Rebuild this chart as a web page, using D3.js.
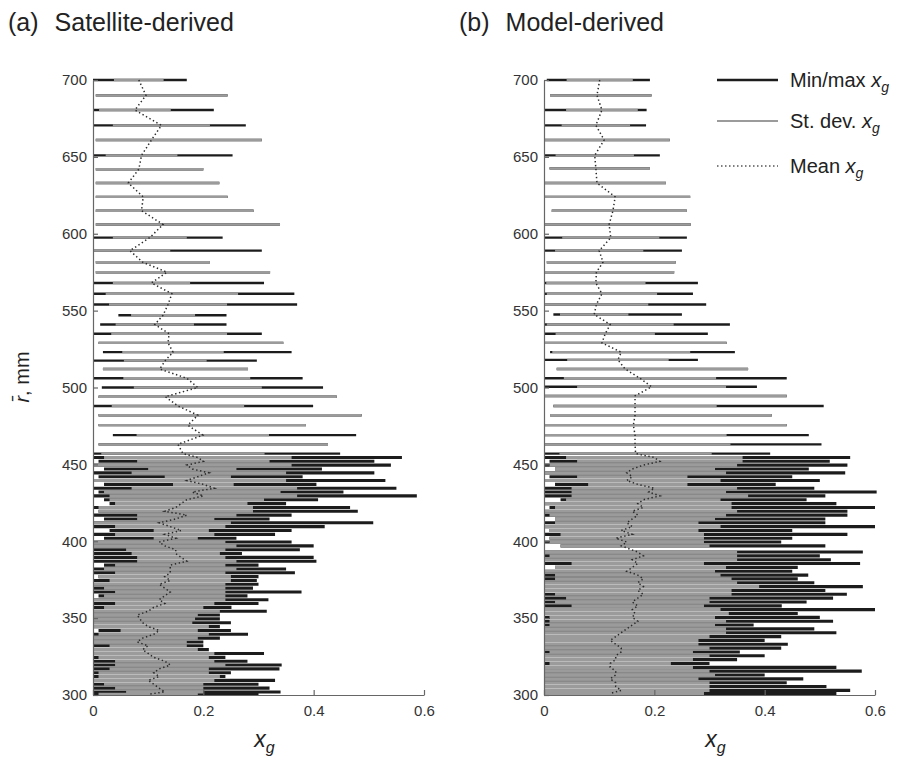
<!DOCTYPE html>
<html>
<head>
<meta charset="utf-8">
<script src="https://cdn.jsdelivr.net/npm/d3@7"></script>
<style>
  body { margin: 0; background: #fff; }
  svg { display: block; font-family: "Liberation Sans", Arial, sans-serif; }
</style>
</head>
<body>
<div id="chart"></div>
<script>
// Tick values and labels
const xTicks = [0, 0.2, 0.4, 0.6];
const yTicks = [300, 350, 400, 450, 500, 550, 600, 650, 700];
const panelNames = ["Satellite-derived", "Model-derived"];
const panelLetters = ["(a)", "(b)"];
const legendLabels = ["Min/max", "St. dev.", "Mean"];

// Rows are [r (mm), min x_g, mean x_g, st. dev. x_g, max x_g]
const satUpper = [
  [700, 0.0, 0.083, 0.045, 0.17], [690, 0.005, 0.096, 0.16, 0.244], [680.5, 0.0, 0.076, 0.065, 0.219],
  [670.5, 0.0, 0.124, 0.088, 0.277], [661, 0.005, 0.106, 0.21, 0.306], [651, 0.0, 0.088, 0.065, 0.253],
  [642, 0.005, 0.083, 0.13, 0.20], [633, 0.005, 0.064, 0.17, 0.229], [624, 0.005, 0.091, 0.16, 0.244],
  [615, 0.005, 0.088, 0.21, 0.291], [606, 0.005, 0.127, 0.22, 0.339], [597.5, 0.0, 0.103, 0.067, 0.235],
  [589, 0.0, 0.067, 0.073, 0.306], [581.5, 0.005, 0.09, 0.13, 0.212], [575, 0.005, 0.134, 0.19, 0.321],
  [568, 0.0, 0.106, 0.07, 0.31], [561, 0.0, 0.143, 0.12, 0.365], [554, 0.0, 0.136, 0.107, 0.37],
  [547, 0.046, 0.127, 0.058, 0.242], [541, 0.013, 0.112, 0.071, 0.242], [535, 0.0, 0.138, 0.105, 0.306],
  [529, 0.01, 0.136, 0.22, 0.345], [523, 0.018, 0.145, 0.092, 0.36], [517.5, 0.0, 0.131, 0.075, 0.297],
  [512, 0.018, 0.121, 0.17, 0.281], [506, 0.0, 0.17, 0.115, 0.38], [500, 0.016, 0.19, 0.116, 0.417],
  [494, 0.01, 0.131, 0.32, 0.442], [488, 0.0, 0.154, 0.12, 0.399], [482, 0.01, 0.19, 0.3, 0.487],
  [475.5, 0.01, 0.172, 0.22, 0.386], [469, 0.036, 0.199, 0.12, 0.477], [463, 0.01, 0.154, 0.28, 0.426],
  [457, 0.0, 0.163, 0.148, 0.448]
];

const satDense = [
  [454.5, 0.0, 0.19, 0.17, 0.56], [452, 0.01, 0.20, 0.12, 0.51], [449.5, 0.0, 0.17, 0.19, 0.54],
  [447, 0.02, 0.18, 0.08, 0.415], [444.5, 0.0, 0.21, 0.14, 0.51], [442, 0.01, 0.19, 0.06, 0.38],
  [439.5, 0.0, 0.17, 0.18, 0.53], [437, 0.02, 0.20, 0.055, 0.405], [434.5, 0.0, 0.22, 0.15, 0.55],
  [432, 0.01, 0.18, 0.16, 0.454], [429.5, 0.0, 0.20, 0.17, 0.587], [427, 0.02, 0.17, 0.14, 0.408],
  [424.5, 0.03, 0.16, 0.12, 0.35], [422, 0.0, 0.15, 0.14, 0.466], [419.5, 0.01, 0.13, 0.16, 0.48],
  [417, 0.0, 0.17, 0.09, 0.36], [414.5, 0.02, 0.15, 0.07, 0.32], [412, 0.0, 0.12, 0.13, 0.508],
  [409.5, 0.0, 0.14, 0.10, 0.42], [407, 0.03, 0.16, 0.05, 0.36], [404.5, 0.0, 0.13, 0.09, 0.33],
  [402, 0.02, 0.15, 0.04, 0.26], [399.5, 0.0, 0.12, 0.12, 0.36], [397, 0.0, 0.13, 0.13, 0.40],
  [394.5, 0.0, 0.15, 0.09, 0.375], [392, 0.0, 0.15, 0.08, 0.27], [389.5, 0.0, 0.16, 0.08, 0.40],
  [387, 0.0, 0.17, 0.09, 0.405], [384.5, 0.02, 0.14, 0.10, 0.30], [382, 0.0, 0.14, 0.12, 0.35],
  [379.5, 0.0, 0.14, 0.10, 0.366], [377, 0.01, 0.13, 0.12, 0.30], [374.5, 0.0, 0.14, 0.11, 0.297],
  [372, 0.0, 0.12, 0.12, 0.30], [369.5, 0.0, 0.13, 0.11, 0.29], [367, 0.0, 0.14, 0.10, 0.378],
  [364.5, 0.01, 0.13, 0.11, 0.28], [362, 0.0, 0.12, 0.12, 0.318], [359.5, 0.0, 0.13, 0.09, 0.30],
  [357, 0.0, 0.11, 0.09, 0.251], [354.5, 0.0, 0.10, 0.13, 0.315], [352, 0.0, 0.08, 0.11, 0.23],
  [349.5, 0.0, 0.085, 0.10, 0.23], [347, 0.0, 0.09, 0.09, 0.25], [344.5, 0.0, 0.10, 0.11, 0.23],
  [342, 0.01, 0.12, 0.07, 0.25], [339.5, 0.0, 0.11, 0.10, 0.281], [337, 0.0, 0.09, 0.10, 0.23],
  [334.5, 0.0, 0.08, 0.09, 0.20], [332, 0.0, 0.10, 0.07, 0.20], [329.5, 0.0, 0.09, 0.10, 0.21],
  [327, 0.0, 0.10, 0.12, 0.31], [324.5, 0.0, 0.11, 0.10, 0.24], [322, 0.0, 0.13, 0.09, 0.28],
  [319.5, 0.0, 0.14, 0.10, 0.342], [317, 0.0, 0.12, 0.09, 0.338], [314.5, 0.0, 0.11, 0.10, 0.25],
  [312, 0.0, 0.12, 0.11, 0.24], [309.5, 0.0, 0.10, 0.12, 0.33], [307, 0.0, 0.11, 0.09, 0.30],
  [304.5, 0.0, 0.12, 0.08, 0.32], [302, 0.0, 0.13, 0.07, 0.34], [300.5, 0.0, 0.10, 0.09, 0.30]
];

const modUpper = [
  [700, 0.005, 0.101, 0.06, 0.192], [690, 0.011, 0.096, 0.12, 0.195], [680.5, 0.0, 0.105, 0.065, 0.186],
  [670.5, 0.0, 0.094, 0.062, 0.185], [661, 0.0, 0.109, 0.15, 0.228], [651, 0.0, 0.092, 0.071, 0.21],
  [642.5, 0.01, 0.094, 0.12, 0.192], [633, 0.0, 0.096, 0.15, 0.221], [624, 0.0, 0.129, 0.16, 0.265],
  [615, 0.014, 0.125, 0.16, 0.259], [606, 0.0, 0.118, 0.17, 0.266], [597.5, 0.0, 0.121, 0.088, 0.259],
  [589, 0.0, 0.10, 0.08, 0.25], [581.5, 0.005, 0.107, 0.15, 0.239], [575, 0.0, 0.095, 0.16, 0.236],
  [568, 0.0, 0.094, 0.09, 0.279], [561, 0.0, 0.105, 0.1, 0.27], [554, 0.0, 0.095, 0.094, 0.294],
  [547.5, 0.017, 0.091, 0.062, 0.25], [541, 0.0, 0.12, 0.115, 0.337], [535, 0.0, 0.111, 0.09, 0.297],
  [529, 0.0, 0.105, 0.23, 0.331], [523, 0.011, 0.14, 0.125, 0.346], [518, 0.0, 0.134, 0.092, 0.279],
  [512, 0.023, 0.147, 0.23, 0.37], [506, 0.0, 0.174, 0.138, 0.44], [500.5, 0.0, 0.195, 0.135, 0.386],
  [494.5, 0.0, 0.165, 0.28, 0.44], [488, 0.017, 0.165, 0.148, 0.507], [482, 0.011, 0.165, 0.26, 0.413],
  [475.5, 0.0, 0.162, 0.28, 0.44], [469, 0.0, 0.165, 0.166, 0.48], [463, 0.0, 0.165, 0.173, 0.503],
  [457, 0.0, 0.166, 0.138, 0.41]
];

const modDense = [
  [454.5, 0.0, 0.20, 0.16, 0.555], [452, 0.01, 0.21, 0.15, 0.518], [449.5, 0.0, 0.18, 0.17, 0.55],
  [447, 0.02, 0.16, 0.15, 0.48], [444.5, 0.0, 0.15, 0.18, 0.546], [442, 0.01, 0.16, 0.10, 0.45],
  [439.5, 0.0, 0.15, 0.17, 0.50], [437, 0.02, 0.17, 0.09, 0.42], [434.5, 0.0, 0.20, 0.15, 0.49],
  [432, 0.0, 0.19, 0.14, 0.603], [429.5, 0.0, 0.21, 0.16, 0.51], [427, 0.03, 0.18, 0.14, 0.476],
  [424.5, 0.0, 0.17, 0.17, 0.53], [422, 0.01, 0.18, 0.16, 0.60], [419.5, 0.0, 0.16, 0.19, 0.55],
  [417, 0.0, 0.17, 0.16, 0.55], [414.5, 0.02, 0.16, 0.15, 0.51], [412, 0.0, 0.15, 0.13, 0.51],
  [409.5, 0.0, 0.16, 0.16, 0.60], [407, 0.01, 0.14, 0.14, 0.45], [404.5, 0.0, 0.16, 0.13, 0.55],
  [402, 0.01, 0.13, 0.16, 0.45], [399.5, 0.0, 0.15, 0.14, 0.43], [397, 0.03, 0.14, 0.16, 0.51],
  [393, 0.0, 0.17, 0.18, 0.578], [390.5, 0.0, 0.18, 0.17, 0.50], [388, 0.0, 0.16, 0.19, 0.52],
  [385.5, 0.0, 0.17, 0.12, 0.573], [383, 0.02, 0.16, 0.17, 0.46], [380.5, 0.0, 0.15, 0.16, 0.45],
  [378, 0.0, 0.17, 0.15, 0.479], [375.5, 0.0, 0.18, 0.16, 0.46], [373, 0.0, 0.17, 0.18, 0.49],
  [370.5, 0.0, 0.18, 0.21, 0.578], [368, 0.0, 0.17, 0.17, 0.51], [365.5, 0.0, 0.18, 0.16, 0.549],
  [363, 0.0, 0.17, 0.13, 0.524], [360.5, 0.0, 0.16, 0.14, 0.476], [358, 0.0, 0.17, 0.12, 0.431],
  [355.5, 0.0, 0.16, 0.16, 0.60], [353, 0.0, 0.165, 0.17, 0.46], [350.5, 0.0, 0.16, 0.15, 0.50],
  [348, 0.0, 0.17, 0.16, 0.524], [345.5, 0.0, 0.16, 0.15, 0.38], [343, 0.0, 0.15, 0.18, 0.49],
  [340.5, 0.0, 0.14, 0.19, 0.53], [338, 0.0, 0.13, 0.17, 0.43], [335.5, 0.0, 0.12, 0.16, 0.40],
  [333, 0.0, 0.13, 0.15, 0.442], [330.5, 0.0, 0.14, 0.16, 0.43], [328, 0.0, 0.14, 0.13, 0.355],
  [325.5, 0.0, 0.13, 0.17, 0.40], [323, 0.0, 0.13, 0.14, 0.35], [320.5, 0.0, 0.12, 0.11, 0.30],
  [318, 0.0, 0.12, 0.15, 0.53], [315.5, 0.0, 0.13, 0.17, 0.576], [313, 0.0, 0.13, 0.18, 0.40],
  [310.5, 0.0, 0.12, 0.16, 0.47], [308, 0.0, 0.13, 0.17, 0.44], [305.5, 0.0, 0.13, 0.17, 0.512],
  [303, 0.0, 0.14, 0.16, 0.555], [301, 0.0, 0.12, 0.17, 0.53]
];

const width = 920, height = 763;
const axisColor = "#666", blackCol = "#1c1c1c", grayCol = "#9b9b9b";

const svg = d3.select("#chart")
  .append("svg")
    .attr("width", width)
    .attr("height", height);

const y = d3.scaleLinear().domain([300, 700]).range([695, 80]);

// rows below ~455 mm are packed tightly, so their strokes are a bit wider
const strokeW = d => d[0] < 456 ? 3.1 : 2.4;

function drawPanel(left, letter, name, rows) {
  const x = d3.scaleLinear().domain([0, 0.6]).range([left, left + 331]);
  const g = svg.append("g");

  // min/max lines
  g.append("g").selectAll("line")
    .data(rows)
    .join("line")
      .attr("x1", d => x(d[1]))
      .attr("x2", d => x(d[4]))
      .attr("y1", d => y(d[0]))
      .attr("y2", d => y(d[0]))
      .attr("stroke", blackCol)
      .attr("stroke-width", strokeW);

  // st. dev. lines, clipped to the min/max range
  g.append("g").selectAll("line")
    .data(rows)
    .join("line")
      .attr("x1", d => x(Math.max(d[1], d[2] - d[3])))
      .attr("x2", d => x(Math.min(d[4], d[2] + d[3])))
      .attr("y1", d => y(d[0]))
      .attr("y2", d => y(d[0]))
      .attr("stroke", grayCol)
      .attr("stroke-width", strokeW);

  // mean
  const sorted = rows.slice().sort((a, b) => b[0] - a[0]);
  g.append("path")
    .datum(sorted)
    .attr("fill", "none")
    .attr("stroke", "#2a2a2a")
    .attr("stroke-width", 1.5)
    .attr("stroke-dasharray", "1.4,2.6")
    .attr("d", d3.line().x(d => x(d[2])).y(d => y(d[0])));

  // axes with inward ticks
  const yAxis = g.append("g")
    .attr("transform", `translate(${left},0)`)
    .call(d3.axisLeft(y).tickValues(yTicks).tickSizeInner(-5).tickSizeOuter(0).tickPadding(6));
  const xAxis = g.append("g")
    .attr("transform", `translate(0,${y(300)})`)
    .call(d3.axisBottom(x).tickValues(xTicks).tickSizeInner(-5).tickSizeOuter(0).tickPadding(10)
      .tickFormat(d => d === 0 ? "0" : d3.format(".1f")(d)));
  [yAxis, xAxis].forEach(a => {
    a.selectAll("path, line").attr("stroke", axisColor).attr("stroke-width", 1.2);
    a.selectAll("text").attr("fill", "#333").style("font-size", "15px")
      .style("font-family", "'Liberation Sans', Arial, sans-serif");
  });

  // panel title
  const t = svg.append("text")
    .attr("x", left - 85)
    .attr("y", 31)
    .attr("fill", "#222")
    .style("font-size", "25px");
  t.append("tspan").text(letter);
  t.append("tspan").attr("dx", 16).text(name);

  // x label
  const xl = svg.append("text")
    .attr("x", x(0.3) + 6)
    .attr("y", 747)
    .attr("text-anchor", "middle")
    .attr("fill", "#222")
    .style("font-size", "23px");
  xl.append("tspan").style("font-style", "italic").text("x");
  xl.append("tspan").attr("dy", 6).style("font-size", "16px").style("font-style", "italic").text("g");
}

drawPanel(93, panelLetters[0], panelNames[0], satUpper.concat(satDense));
drawPanel(544, panelLetters[1], panelNames[1], modUpper.concat(modDense));

// y label
const yl = svg.append("text")
  .attr("transform", "translate(29,377) rotate(-90)")
  .attr("text-anchor", "middle")
  .attr("fill", "#222")
  .style("font-size", "20px");
yl.append("tspan").style("font-style", "italic").text("r\u0304");
yl.append("tspan").text(", mm");

// legend
const legendY = [80, 121, 166];
const legend = svg.append("g").selectAll("g")
  .data(legendLabels)
  .join("g")
    .attr("transform", (d, i) => `translate(717,${legendY[i]})`);

legend.append("line")
  .attr("x1", 0).attr("x2", 61)
  .attr("stroke", (d, i) => i === 0 ? blackCol : i === 1 ? grayCol : "#555")
  .attr("stroke-width", (d, i) => i === 0 ? 2.4 : i === 1 ? 1.8 : 1.5)
  .attr("stroke-dasharray", (d, i) => i === 2 ? "1.5,2.5" : null);

const lt = legend.append("text")
  .attr("x", 73)
  .attr("y", 7)
  .attr("fill", "#222")
  .style("font-size", "20px");
lt.append("tspan").text(d => d + " ");
lt.append("tspan").style("font-style", "italic").text("x");
lt.append("tspan").attr("dy", 5).style("font-size", "14px").style("font-style", "italic").text("g");
</script>
</body>
</html>
